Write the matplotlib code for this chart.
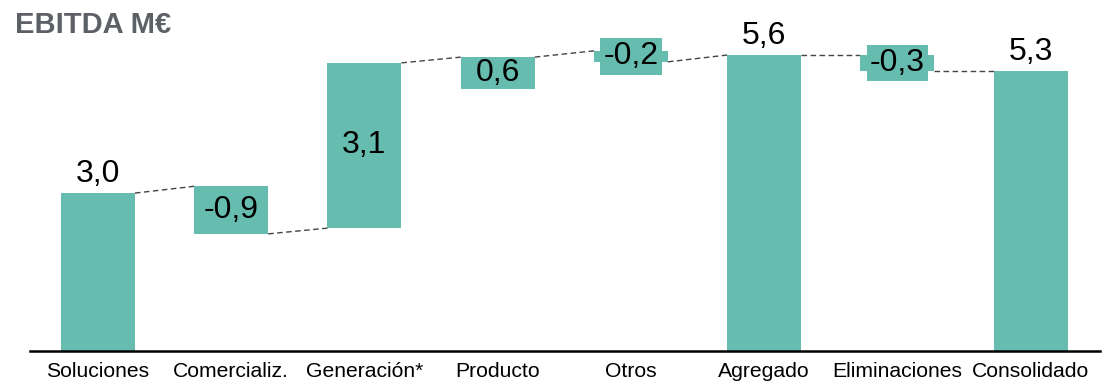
import matplotlib
matplotlib.use("Agg")
import matplotlib.pyplot as plt

plt.rcParams['font.family'] = ['Liberation Sans', 'DejaVu Sans']

# data (EBITDA M€ waterfall)
categories = ["Soluciones", "Comercializ.", "Generación*", "Producto",
              "Otros", "Agregado", "Eliminaciones", "Consolidado"]
value_labels = ["3,0", "-0,9", "3,1", "0,6", "-0,2", "5,6", "-0,3", "5,3"]
bar_bottom = [0.0, 2.24, 2.35, 5.01, 5.53, 0.0, 5.35, 0.0]
bar_top = [3.02, 3.15, 5.51, 5.62, 5.74, 5.66, 5.66, 5.35]
is_total = [True, False, False, False, False, True, False, True]
# dashed connectors: level leaving bar i -> level reaching bar i+1
conn_from = [3.02, 2.24, 5.51, 5.62, 5.53, 5.66, 5.35]
conn_to = [3.15, 2.35, 5.62, 5.74, 5.66, 5.66, 5.35]

TEAL = "#66bcaf"
GREY = "#5d6166"
BAR_W = 0.555

fig = plt.figure(figsize=(11.02, 3.83), dpi=100)
ax = fig.add_axes([30 / 1102, 32 / 383, 1070 / 1102, 331 / 383])

x = list(range(len(categories)))
heights = [t - b for b, t in zip(bar_bottom, bar_top)]
ax.bar(x, heights, bottom=bar_bottom, width=BAR_W, color=TEAL, zorder=2)

for i in range(len(categories) - 1):
  ax.plot([i + BAR_W / 2, i + 1 - BAR_W / 2], [conn_from[i], conn_to[i]],
          color="#444444", lw=1.0, ls=(0, (4, 2.5)), zorder=1)

for i, lab in enumerate(value_labels):
  if is_total[i]:
    ax.annotate(lab, (i, bar_top[i]), xytext=(0, 3), textcoords="offset points",
                ha="center", va="bottom", fontsize=23, color="black")
  else:
    box = None
    if heights[i] < 0.5:
      # small bars: label sits on its own teal patch
      box = dict(boxstyle="square,pad=0.1", fc=TEAL, ec="none")
    ax.text(i, (bar_bottom[i] + bar_top[i]) / 2, lab, ha="center", va="center",
            fontsize=23, color="black", zorder=3, bbox=box)

ax.set_xlim(-0.51, 7.52)
ax.set_ylim(0, 6.33)
ax.set_xticks(x)
ax.set_xticklabels(categories, fontsize=15.2)
ax.tick_params(axis="x", length=0, pad=8)
ax.set_yticks([])
for side in ["top", "right", "left"]:
  ax.spines[side].set_visible(False)
ax.spines["bottom"].set_linewidth(1.8)
ax.spines["bottom"].set_color("black")

fig.text(15 / 1102, 1 - 11 / 383, "EBITDA M€", ha="left", va="top",
         fontsize=21, fontweight="bold", color=GREY)

fig.savefig("out.png", dpi=100)
